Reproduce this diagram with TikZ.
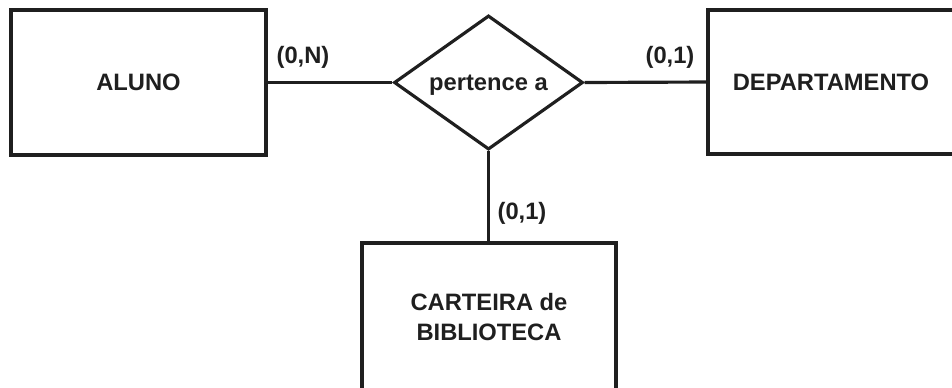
\documentclass[tikz,border=0pt]{standalone}
\usepackage{fontspec}
\setmainfont{Liberation Sans}
\usetikzlibrary{shapes.geometric}
\colorlet{ink}{black!88}
\tikzset{entity/.style={draw=ink, line width=1.8pt, inner sep=0pt, align=center}}
\tikzset{relation/.style={draw=ink, diamond, line width=1.8pt, inner sep=0pt}}
\tikzset{link/.style={draw=ink, line width=1.8pt}}
\tikzset{card/.style={inner sep=0pt}}

\begin{document}
\begin{tikzpicture}[x=0.02cm, y=-0.02cm, text=ink, font=\fontsize{13.5}{17.5}\selectfont\bfseries]
                \useasboundingbox (0,0) rectangle (952,387);
                \clip (0,0) rectangle (952,387);

                \node[entity, minimum width=5.1cm, minimum height=2.9cm] (aluno) at (138.5,82.5) {ALUNO};
                \node[relation, minimum width=3.78cm, minimum height=2.54cm, text depth=0pt] (pertence) at (488.5,82.5) {pertence a};
                \node[entity, minimum width=4.92cm, minimum height=2.88cm] (depto) at (831,82) {DEPARTAMENTO};
                \node[entity, minimum width=5.08cm, minimum height=2.96cm] (carteira) at (489,317) {CARTEIRA de\\BIBLIOTECA};

                \draw[link] (aluno.east) -- (pertence.west);
                \draw[link] (pertence.east) -- (depto.west);
                \draw[link] (pertence.south) -- (carteira.north -| pertence.south);

                \node[card] (cardaluno) at (303,57) {(0,N)};
                \node[card] (carddepto) at (670,57) {(0,1)};
                \node[card] (cardcarteira) at (522,213) {(0,1)};
            \end{tikzpicture}
\end{document}
